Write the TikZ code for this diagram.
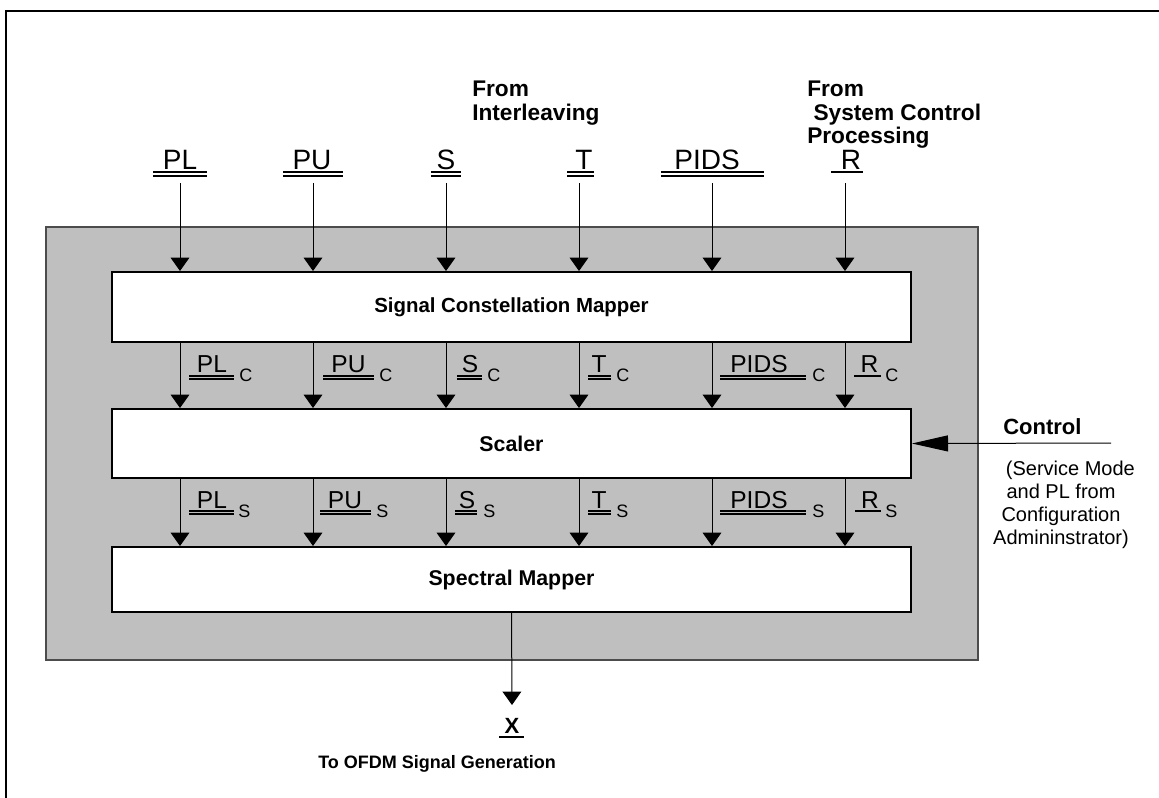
\documentclass[tikz,border=0pt]{standalone}
\usepackage{fontspec}
\setmainfont{Liberation Sans}
\usetikzlibrary{arrows.meta}

\begin{document}
\begin{tikzpicture}[x=0.75pt,y=-0.75pt,
  block/.style={draw=black, line width=1.5pt, fill=white, minimum width=599.25pt, inner sep=0pt, font=\bfseries\fontsize{16}{19}\selectfont},
  arr/.style={-{Triangle[width=14pt,length=10pt]}, line width=0.75pt, black},
  ul/.style={line width=1pt, black},
  toplbl/.style={anchor=base, inner sep=0pt, font=\fontsize{21}{25}\selectfont},
  midlbl/.style={anchor=base, inner sep=0pt, font=\fontsize{18.4}{22}\selectfont},
  sublbl/.style={anchor=base west, inner sep=0pt, font=\fontsize{13.5}{16}\selectfont},
  note/.style={inner sep=0pt, font=\bfseries\fontsize{17}{17.6}\selectfont}]

\clip (0,0) rectangle (1159,797);
\draw [black, line width=1.6pt] (6,11) rectangle (1200,830);

\draw [gray!60!black, fill=black!25, line width=0.9pt] (46,227) rectangle (978,660);

% the three blocks
\node [block, minimum height=52.5pt, font=\bfseries\fontsize{15.3}{19}\selectfont] (scm) at (511.5,307) {Signal Constellation Mapper};
\node [block, minimum height=51.75pt] (scaler) at (511.5,443.5) {Scaler};
\node [block, minimum height=48.75pt] (spm) at (511.5,579.5) {Spectral Mapper};

% sources
\node [note, anchor=north west, align=left] (fromil) at (472,81) {From\\Interleaving};
\node [note, anchor=north west, align=left] (fromscp) at (807,81) {From\\ \ System Control\\Processing};

% inputs
\node [toplbl] (inPL) at (180,169) {PL};
\node [toplbl] (inPU) at (312,169) {PU};
\node [toplbl] (inS) at (446,169) {S};
\node [toplbl] (inT) at (584,169) {T};
\node [toplbl] (inPIDS) at (707,169) {PIDS};
\node [toplbl] (inR) at (851,169) {R};

\draw [ul] (153,172) -- (207,172);
\draw [ul] (153,176) -- (207,176);
\draw [ul] (283,172) -- (343,172);
\draw [ul] (283,176) -- (343,176);
\draw [ul] (431,172) -- (461,172);
\draw [ul] (431,176) -- (461,176);
\draw [ul] (567,172) -- (594,172);
\draw [ul] (567,176) -- (594,176);
\draw [ul] (661,172) -- (764,172);
\draw [ul] (661,176) -- (764,176);
\draw [ul] (831,172) -- (863,172);

\coordinate (cPL) at (180,183);
\coordinate (cPU) at (313,183);
\coordinate (cS) at (446,183);
\coordinate (cT) at (579,183);
\coordinate (cPIDS) at (712,183);
\coordinate (cR) at (845,183);

\draw [arr] (cPL) -- (cPL |- scm.north);
\draw [arr] (cPU) -- (cPU |- scm.north);
\draw [arr] (cS) -- (cS |- scm.north);
\draw [arr] (cT) -- (cT |- scm.north);
\draw [arr] (cPIDS) -- (cPIDS |- scm.north);
\draw [arr] (cR) -- (cR |- scm.north);

% mapped signals
\draw [arr] (cPL |- scm.south) -- (cPL |- scaler.north);
\draw [arr] (cPU |- scm.south) -- (cPU |- scaler.north);
\draw [arr] (cS |- scm.south) -- (cS |- scaler.north);
\draw [arr] (cT |- scm.south) -- (cT |- scaler.north);
\draw [arr] (cPIDS |- scm.south) -- (cPIDS |- scaler.north);
\draw [arr] (cR |- scm.south) -- (cR |- scaler.north);

\node [midlbl] (lPLc) at (212,372) {PL};
\node [sublbl] (sPLc) at (239,381) {C};
\node [midlbl] (lPUc) at (348.5,372) {PU};
\node [sublbl] (sPUc) at (379,381) {C};
\node [midlbl] (lSc) at (470,372) {S};
\node [sublbl] (sSc) at (487,381) {C};
\node [midlbl] (lTc) at (599,372) {T};
\node [sublbl] (sTc) at (616,381) {C};
\node [midlbl] (lPIDSc) at (759,372) {PIDS};
\node [sublbl] (sPIDSc) at (812,381) {C};
\node [midlbl] (lRc) at (869.5,372) {R};
\node [sublbl] (sRc) at (885,381) {C};

\draw [ul] (189,376) -- (234,376);
\draw [ul] (189,379) -- (234,379);
\draw [ul] (323,376) -- (374,376);
\draw [ul] (323,379) -- (374,379);
\draw [ul] (457,376) -- (482,376);
\draw [ul] (457,379) -- (482,379);
\draw [ul] (588,376) -- (611,376);
\draw [ul] (588,379) -- (611,379);
\draw [ul] (720,376) -- (806,376);
\draw [ul] (720,379) -- (806,379);
\draw [ul] (854,376) -- (881,376);

% scaled signals
\draw [arr] (cPL |- scaler.south) -- (cPL |- spm.north);
\draw [arr] (cPU |- scaler.south) -- (cPU |- spm.north);
\draw [arr] (cS |- scaler.south) -- (cS |- spm.north);
\draw [arr] (cT |- scaler.south) -- (cT |- spm.north);
\draw [arr] (cPIDS |- scaler.south) -- (cPIDS |- spm.north);
\draw [arr] (cR |- scaler.south) -- (cR |- spm.north);

\node [midlbl] (lPLs) at (212,508) {PL};
\node [sublbl] (sPLs) at (238,517) {S};
\node [midlbl] (lPUs) at (345,508) {PU};
\node [sublbl] (sPUs) at (376,517) {S};
\node [midlbl] (lSs) at (467,508) {S};
\node [sublbl] (sSs) at (483,517) {S};
\node [midlbl] (lTs) at (599,508) {T};
\node [sublbl] (sTs) at (616,517) {S};
\node [midlbl] (lPIDSs) at (759,508) {PIDS};
\node [sublbl] (sPIDSs) at (812,517) {S};
\node [midlbl] (lRs) at (870,508) {R};
\node [sublbl] (sRs) at (885,517) {S};

\draw [ul] (189,511) -- (234,511);
\draw [ul] (189,514) -- (234,514);
\draw [ul] (320,511) -- (371,511);
\draw [ul] (320,514) -- (371,514);
\draw [ul] (455,511) -- (477,511);
\draw [ul] (455,514) -- (477,514);
\draw [ul] (588,511) -- (611,511);
\draw [ul] (588,514) -- (611,514);
\draw [ul] (720,511) -- (806,511);
\draw [ul] (720,514) -- (806,514);
\draw [ul] (855,511) -- (881,511);

% control input
\coordinate (ctl) at (1111,443);
\draw [-{Triangle[width=12pt,length=27pt]}, line width=0.75pt] (ctl) -- (scaler.east);
\node [anchor=base west, inner sep=0pt, font=\bfseries\fontsize{16.5}{20}\selectfont] (ctltxt) at (1003,434) {Control};
\node [anchor=north, align=center, inner sep=0pt, font=\fontsize{15}{17.25}\selectfont] (ctlnote) at (1061,461) {\hspace*{14pt}(Service Mode\\and PL from\\Configuration\\Admininstrator)};

% output
\coordinate (xtop) at (512,705);
\draw [arr] (spm.south) -- (xtop);
\node [anchor=base, inner sep=0pt, font=\bfseries\fontsize{16.5}{20}\selectfont] (outX) at (512,733) {X};
\draw [ul] (499,737) -- (524,737);
\node [anchor=base west, inner sep=0pt, font=\bfseries\fontsize{13.5}{15}\selectfont] (outtxt) at (318,768) {To OFDM Signal Generation};

\end{tikzpicture}
\end{document}
